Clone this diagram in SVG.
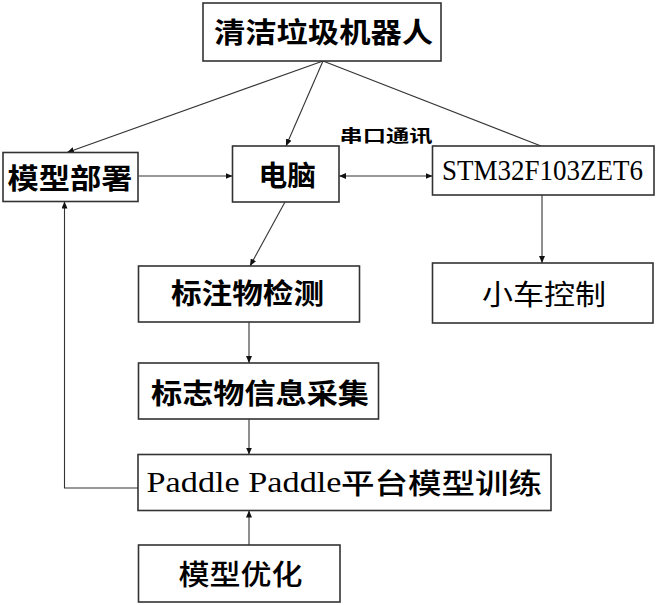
<svg xmlns="http://www.w3.org/2000/svg" width="656" height="605" viewBox="0 0 656 605">
<defs>
<style>
.box{fill:#fff;stroke:#333;stroke-width:1.6}
.cn{font-family:"Noto Sans CJK SC","Noto Sans CJK JP",sans-serif;font-size:28px;fill:#000;dominant-baseline:central}
.b{font-weight:bold}
.m{font-weight:500}
.n{font-weight:normal}
.lat{font-family:"Liberation Serif",serif;font-size:29px;fill:#000}
.ln{fill:none;stroke:#333;stroke-width:1.1}
</style>
<marker id="ah" markerUnits="userSpaceOnUse" markerWidth="7" markerHeight="6" refX="7" refY="3" orient="auto-start-reverse">
<path d="M0,0 L7,3 L0,6 z" fill="#111"/>
</marker>
</defs>
<rect width="656" height="605" fill="#fff"/>
<g id="connectors">
<line class="ln" x1="323" y1="61" x2="67" y2="152.5" marker-end="url(#ah)"/>
<line class="ln" x1="323" y1="61" x2="286" y2="146" marker-end="url(#ah)"/>
<line class="ln" x1="323" y1="61" x2="541" y2="146"/>
<line class="ln" x1="138.5" y1="176" x2="232.5" y2="176" marker-end="url(#ah)"/>
<line class="ln" x1="339" y1="176" x2="432.5" y2="176" marker-start="url(#ah)" marker-end="url(#ah)"/>
<line class="ln" x1="285" y1="202" x2="250" y2="266" marker-end="url(#ah)"/>
<line class="ln" x1="542" y1="195" x2="542" y2="263" marker-end="url(#ah)"/>
<line class="ln" x1="249" y1="322" x2="249" y2="363" marker-end="url(#ah)"/>
<line class="ln" x1="249" y1="419" x2="249" y2="454.5" marker-end="url(#ah)"/>
<line class="ln" x1="249" y1="545" x2="249" y2="510.5" marker-end="url(#ah)"/>
<polyline class="ln" points="138,488 64.5,488 64.5,201.5" marker-end="url(#ah)"/>
<text class="cn b" x="339.5" y="134" textLength="93" lengthAdjust="spacingAndGlyphs" style="font-size:17px">串口通讯</text>
</g>
<g id="robot">
<rect class="box" x="203" y="3" width="238" height="58"/>
<text class="cn b" x="214" y="31" textLength="219" lengthAdjust="spacingAndGlyphs">清洁垃圾机器人</text>
</g>
<g id="deploy">
<rect class="box" x="3" y="152.5" width="135" height="49"/>
<text class="cn b" x="7.5" y="176.5" textLength="125" lengthAdjust="spacingAndGlyphs">模型部署</text>
</g>
<g id="pc">
<rect class="box" x="232.5" y="146" width="106.5" height="56"/>
<text class="cn b" x="258.5" y="174" textLength="57.5" lengthAdjust="spacingAndGlyphs">电脑</text>
</g>
<g id="stm">
<rect class="box" x="432.5" y="146" width="221.5" height="49"/>
<text class="lat" transform="translate(442,180) scale(1,1.1)" x="0" y="0" style="font-size:27px">STM32F103ZET6</text>
</g>
<g id="detect">
<rect class="box" x="138.5" y="266" width="221" height="56"/>
<text class="cn b" x="171" y="292" textLength="153" lengthAdjust="spacingAndGlyphs">标注物检测</text>
</g>
<g id="car">
<rect class="box" x="432.5" y="263" width="220.5" height="60"/>
<text class="cn n" x="482" y="293" textLength="124" lengthAdjust="spacingAndGlyphs">小车控制</text>
</g>
<g id="collect">
<rect class="box" x="138.5" y="363" width="240" height="56"/>
<text class="cn b" x="151" y="391.5" textLength="218" lengthAdjust="spacingAndGlyphs">标志物信息采集</text>
</g>
<g id="train">
<rect class="box" x="138" y="454.5" width="413" height="56"/>
<text class="lat" x="146.5" y="492" textLength="195" lengthAdjust="spacingAndGlyphs">Paddle Paddle</text>
<text class="cn m" x="341" y="482" textLength="201" lengthAdjust="spacingAndGlyphs">平台模型训练</text>
</g>
<g id="optimize">
<rect class="box" x="138.5" y="545" width="201.5" height="57"/>
<text class="cn m" x="178.5" y="572.5" textLength="124" lengthAdjust="spacingAndGlyphs">模型优化</text>
</g>
</svg>
